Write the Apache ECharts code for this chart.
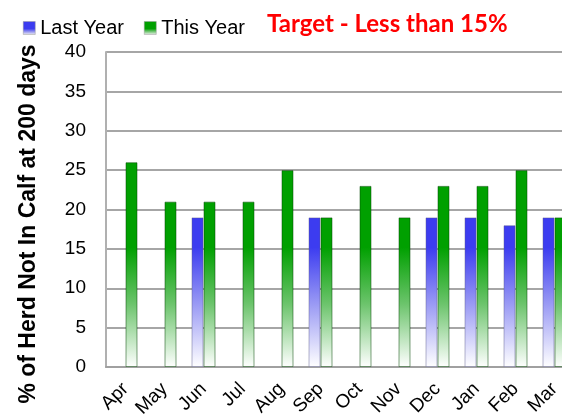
<!DOCTYPE html>
<html>
<head>
<meta charset="utf-8">
<script src="https://cdn.jsdelivr.net/npm/echarts@6/dist/echarts.min.js"></script>
<style>
  html, body { margin: 0; padding: 0; background: #fff; }
  #chart { width: 562px; height: 420px; }
</style>
</head>
<body>
<div id="chart"></div>
<script>
const months = ['Apr', 'May', 'Jun', 'Jul', 'Aug', 'Sep', 'Oct', 'Nov', 'Dec', 'Jan', 'Feb', 'Mar']
const lastYear = [null, null, 19, null, null, 19, null, null, 19, 19, 18, 19]
const thisYear = [26, 21, 21, 21, 25, 19, 23, 19, 23, 23, 25, 19]
const yTicks = { min: 0, max: 40, interval: 5 }

const font = '"Liberation Sans", Arial, sans-serif'

// fade to white toward the axis, measured on the whole plot (not per bar)
function fade(c, mid) {
  return new echarts.graphic.LinearGradient(0, 52, 0, 367, [
    { offset: 0, color: c },
    { offset: 0.62, color: c },
    { offset: 0.8, color: mid },
    { offset: 1, color: '#ffffff' }
  ], true)
}
function iconFill(c) {
  return new echarts.graphic.LinearGradient(0, 0, 0, 1, [
    { offset: 0, color: c },
    { offset: 0.55, color: c },
    { offset: 1, color: '#f0f0f0' }
  ])
}

const chart = echarts.init(document.getElementById('chart'))
chart.setOption({
  animation: false,
  title: {
    text: '{b|Target}{n| - Less than 15%}',
    left: 262, top: 7,
    textStyle: {
      rich: {
        b: { fontFamily: 'Lato, sans-serif', fontSize: 24, fontWeight: 'bold', color: '#ff0000' },
        n: { fontFamily: 'Lato, sans-serif', fontSize: 24, color: '#ff0000' }
      }
    }
  },
  legend: {
    left: 18, top: 13,
    itemWidth: 12, itemHeight: 13, itemGap: 20,
    textStyle: { fontFamily: font, fontSize: 20, color: '#000' },
    data: [
      { name: 'Last Year', icon: 'rect', itemStyle: { color: iconFill('#3c3cf0'), borderColor: '#999', borderWidth: 0.5 } },
      { name: 'This Year', icon: 'rect', itemStyle: { color: iconFill('#00a000'), borderColor: '#999', borderWidth: 0.5 } }
    ]
  },
  // plot runs past the right edge of the picture, as in the original
  grid: { left: 106, width: 468, top: 52, bottom: 53, outerBoundsMode: 'none' },
  xAxis: {
    type: 'category',
    data: months,
    axisLine: { lineStyle: { color: '#a0a0a0', width: 2 } },
    axisTick: { show: false },
    axisLabel: { rotate: 45, margin: 19, fontFamily: font, fontSize: 19, color: '#000', interval: 0 }
  },
  yAxis: {
    type: 'value',
    min: yTicks.min, max: yTicks.max, interval: yTicks.interval,
    axisLine: { show: true, lineStyle: { color: '#b0b0b0', width: 2 } },
    axisTick: { show: false },
    axisLabel: { margin: 20, fontFamily: font, fontSize: 19, color: '#000' },
    splitLine: { lineStyle: { color: '#a6a6a6', width: 2 } }
  },
  graphic: [{
    type: 'text',
    x: 29, y: 224,
    rotation: Math.PI / 2,
    style: {
      text: '% of Herd Not In Calf at 200 days',
      fontFamily: font, fontSize: 23, fontWeight: 'bold', fill: '#000',
      align: 'center', verticalAlign: 'middle'
    }
  }],
  series: [
    {
      name: 'Last Year', type: 'bar', data: lastYear,
      barWidth: 12, barGap: '0%',
      itemStyle: { color: fade('#3c3cf0', '#9a9af4'), borderColor: 'rgba(90,90,140,0.45)', borderWidth: 1 }
    },
    {
      name: 'This Year', type: 'bar', data: thisYear,
      barWidth: 12,
      itemStyle: { color: fade('#00a000', '#6cc46c'), borderColor: 'rgba(0,70,0,0.5)', borderWidth: 1 }
    }
  ]
})
</script>
</body>
</html>
